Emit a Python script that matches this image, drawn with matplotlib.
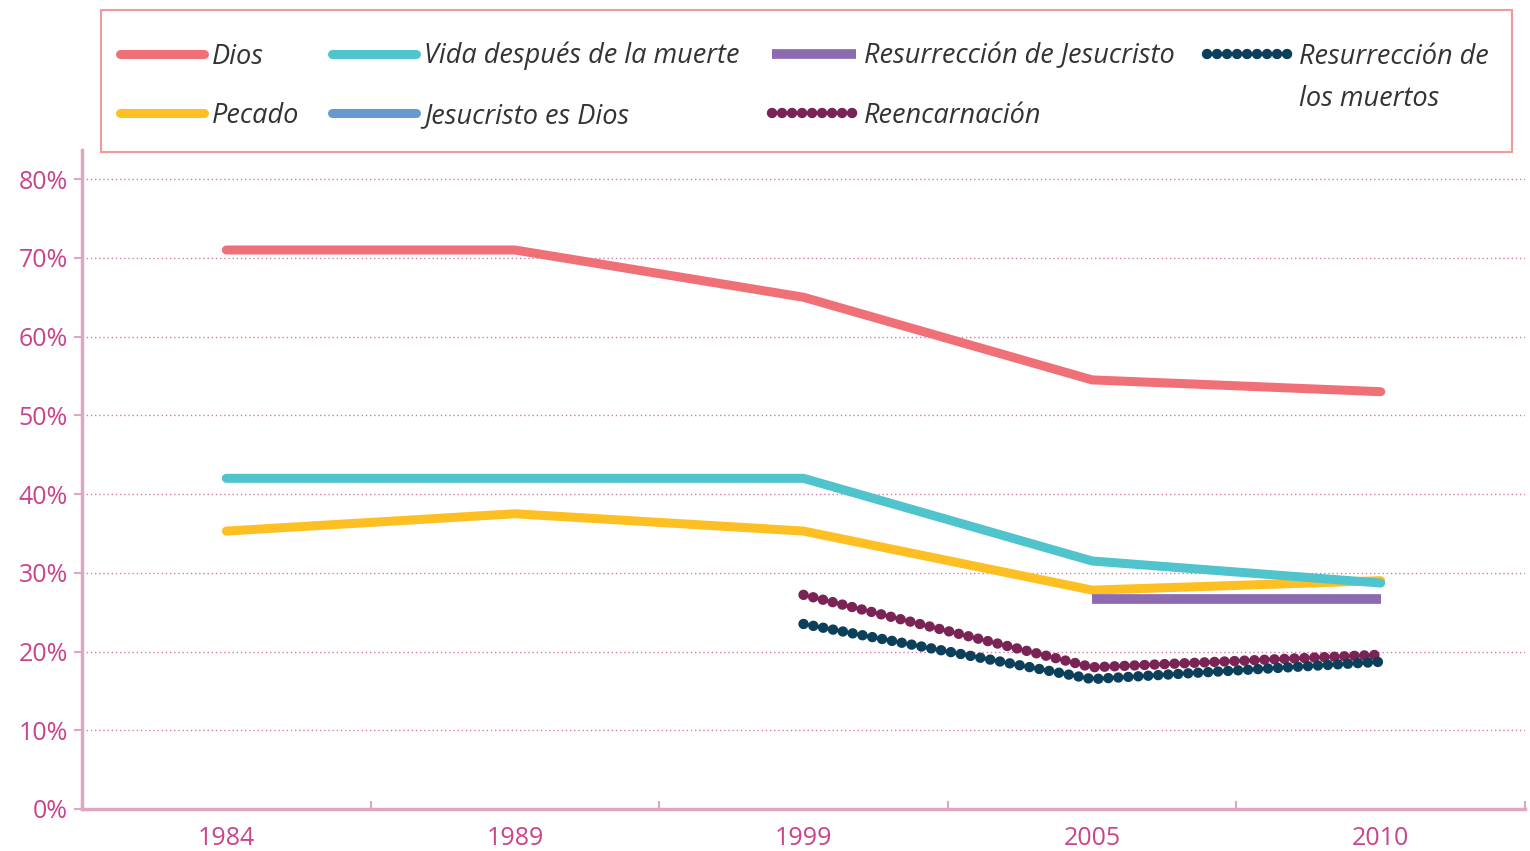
import matplotlib.pyplot as plt
from matplotlib.patches import Rectangle
import numpy as np

# ---------- datos ----------
anios = ["1984", "1989", "1999", "2005", "2010"]

dios = [71, 71, 65, 54.5, 53]
pecado = [35.3, 37.5, 35.3, 27.8, 29]
vida = [42, 42, 42, 31.5, 28.7]
jesucristo_dios = [None, None, None, None, None]
resurreccion_jesucristo = [None, None, None, 26.7, 26.7]
reencarnacion = [None, None, 27.2, 18, 19.6]
resurreccion_muertos = [None, None, 23.5, 16.5, 18.7]

series = [
    ("Dios", dios, "#f07077", "solid"),
    ("Pecado", pecado, "#fdbf22", "solid"),
    ("Vida después de la muerte", vida, "#50c4cc", "solid"),
    ("Jesucristo es Dios", jesucristo_dios, "#6699cf", "solid"),
    ("Resurrección de Jesucristo", resurreccion_jesucristo, "#8d6bb0", "dash"),
    ("Reencarnación", reencarnacion, "#7a2456", "dot"),
    ("Resurrección de", resurreccion_muertos, "#0b3f5a", "dot"),
]
segunda_linea = "los muertos"

rosa = "#c9448b"
rosa_claro = "#dfa6c4"

plt.rcParams['font.family'] = ['Open Sans', 'DejaVu Sans']

W, H = 1530, 851
fig = plt.figure(figsize=(W / 100, H / 100), dpi=100)
ax = fig.add_axes([82 / W, 1 - 809 / H, (1525 - 82) / W, (809 - 150) / H])

x = np.arange(len(anios))
for nombre, valores, color, estilo in series:
    y = np.array([np.nan if v is None else v for v in valores], dtype=float)
    if estilo == "solid":
        ax.plot(x, y, color=color, lw=6.5, solid_capstyle='round', label=nombre)
    elif estilo == "dash":
        ax.plot(x, y, color=color, lw=7, solid_capstyle='butt', label=nombre)
    else:
        ax.plot(x, y, color=color, lw=7.5, linestyle=(0, (0.01, 0.95)),
                dash_capstyle='round', label=nombre)

ax.set_xlim(-0.5, len(anios) - 0.5)
ax.set_ylim(0, 83.7)
ax.set_xticks(x)
ax.set_xticklabels(anios)
ax.set_xticks(np.arange(-0.5, len(anios), 1), minor=True)
ax.tick_params(axis='x', which='major', length=0, pad=12, labelsize=18, labelcolor=rosa)
ax.tick_params(axis='x', which='minor', length=6, width=1.5, color=rosa_claro, direction='in')
ax.set_yticks(np.arange(0, 81, 10))
ax.set_yticklabels([f"{v}%" for v in range(0, 81, 10)])
ax.tick_params(axis='y', length=6, width=1.5, color=rosa_claro, pad=4, labelsize=18, labelcolor=rosa)

for s in ["top", "right"]:
    ax.spines[s].set_visible(False)
for s in ["left", "bottom"]:
    ax.spines[s].set_color(rosa_claro)
    ax.spines[s].set_linewidth(2.5)

ax.grid(axis='y', color="#d77aa8", linestyle=(0, (1, 2)), linewidth=1)
ax.set_axisbelow(True)

# marco de la leyenda
fig.patches.append(Rectangle((101 / W, 1 - 152 / H), (1512 - 101) / W, (152 - 10) / H,
                             transform=fig.transFigure, fill=False,
                             edgecolor="#f29a9a", linewidth=1.5))

leg = fig.legend(loc='upper left', bbox_to_anchor=(120 / W, 1 - 42 / H), ncol=4,
                 frameon=False, handlelength=3.1, handletextpad=0.3,
                 columnspacing=1.2, labelspacing=1.15, borderpad=0, borderaxespad=0,
                 prop={'style': 'italic', 'size': 19.5})
for t in leg.get_texts():
    t.set_color("#333333")

# segunda línea de la última etiqueta
fig.canvas.draw()
ultimo = leg.get_texts()[-1]
bb = ultimo.get_window_extent()
fig.text(bb.x0 / W, (bb.y0 - 42) / H, segunda_linea, color="#333333",
         fontsize=19.5, style='italic', ha='left', va='bottom')

fig.savefig("out.png", dpi=100)
